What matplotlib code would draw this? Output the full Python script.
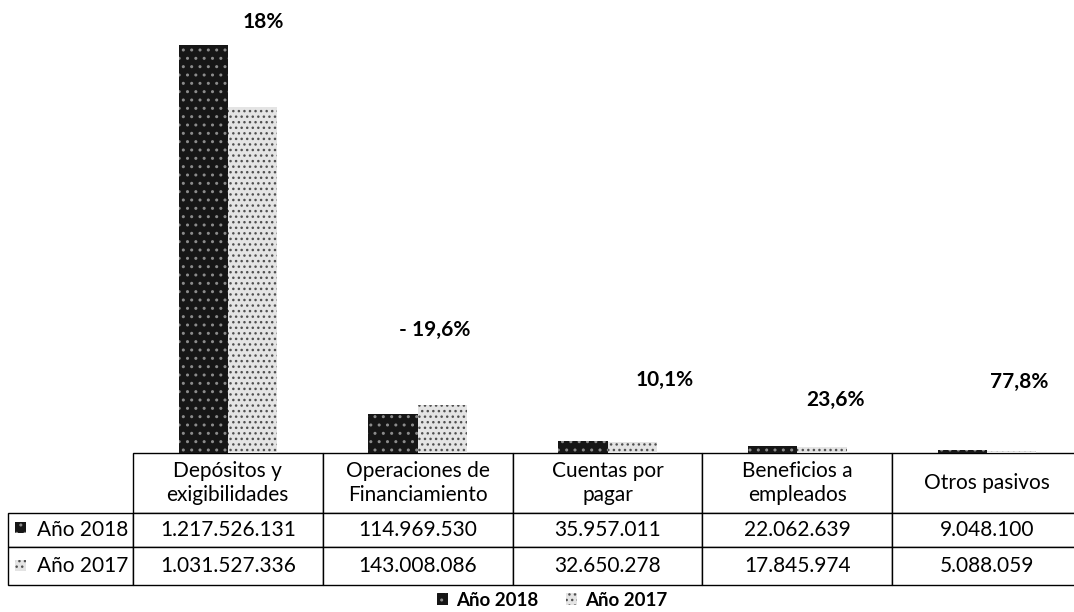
import matplotlib.pyplot as plt
from matplotlib.patches import Rectangle

plt.rcParams['font.family'] = ['Lato', 'DejaVu Sans']
plt.rcParams['hatch.linewidth'] = 1.0

categories = ['Depósitos y\nexigibilidades', 'Operaciones de\nFinanciamiento',
              'Cuentas por\npagar', 'Beneficios a\nempleados', 'Otros pasivos']
anio_2018 = [1217526131, 114969530, 35957011, 22062639, 9048100]
anio_2017 = [1031527336, 143008086, 32650278, 17845974, 5088059]
variacion = ['18%', '- 19,6%', '10,1%', '23,6%', '77,8%']

# where the % labels sit (data coords)
lbl_x = [0.185, 1.09, 2.30, 3.20, 4.17]
lbl_y = [1286e6, 367e6, 218e6, 158e6, 212e6]

W, H = 1074, 612
fig = plt.figure(figsize=(W / 100, H / 100), dpi=100)

# plot area in pixels: x 133..1082, y 20..453
ax_l, ax_r, ax_t, ax_b = 133, 1082, 20, 453
ax = fig.add_axes([ax_l / W, 1 - ax_b / H, (ax_r - ax_l) / W, (ax_b - ax_t) / H])

x = list(range(len(categories)))
w = 0.26
b18 = ax.bar([i - w / 2 for i in x], anio_2018, w, color='#161616', edgecolor='#8c8c8c',
             hatch='..', linewidth=0, label='Año 2018')
b17 = ax.bar([i + w / 2 for i in x], anio_2017, w, color='#e4e4e4', edgecolor='#505050',
             hatch='...', linewidth=0, label='Año 2017')

ax.set_xlim(-0.5, 4.5)
ax.set_ylim(0, 1292e6)
for s in ax.spines.values():
    s.set_visible(False)
ax.set_xticks([])
ax.set_yticks([])

for t, xx, yy in zip(variacion, lbl_x, lbl_y):
    ax.text(xx, yy, t, ha='center', va='center', fontsize=15, fontweight='bold')

# data table under the bars
fmt = lambda v: f'{v:,}'.replace(',', '.')
cell_text = [['', *categories],
             ['Año 2018', *[fmt(v) for v in anio_2018]],
             ['Año 2017', *[fmt(v) for v in anio_2017]]]
ax_w = ax_r - ax_l
ax_h = ax_b - ax_t
tb_left, tb_right, tb_bot = 8, 1082, 585
tbl = ax.table(cellText=cell_text, cellLoc='center',
               bbox=[(tb_left - ax_l) / ax_w, -(tb_bot - ax_b) / ax_h,
                     (tb_right - tb_left) / ax_w, (tb_bot - ax_b) / ax_h])
tbl.auto_set_font_size(False)
col_w = [125] + [190] * 5
row_h = [60, 34, 38]
for (r, c), cell in tbl.get_celld().items():
    cell.set_width(col_w[c])
    cell.set_height(row_h[r])
    cell.set_linewidth(1.0)
    cell.get_text().set_fontsize(15)
    if r == 0 and c == 0:
        cell.visible_edges = ''
    if c == 0 and r > 0:
        cell.get_text().set_ha('right')
        cell.PAD = 0.04
        cell._loc = 'right'

# little legend keys in the row labels
for yy, bar in [(528, b18), (566, b17)]:
    fig.patches.append(Rectangle((15 / W, 1 - (yy + 5) / H), 11 / W, 11 / H,
                                 transform=fig.transFigure, facecolor=bar[0].get_facecolor(),
                                 edgecolor=bar[0].get_edgecolor(), hatch=bar[0].get_hatch(),
                                 linewidth=0))

leg = fig.legend(handles=[b18, b17], loc='center', bbox_to_anchor=(552 / W, 1 - 600 / H),
                 ncol=2, frameon=False, prop={'weight': 'bold', 'size': 13.5},
                 handlelength=0.6, handleheight=0.6, handletextpad=0.4, columnspacing=1.5)

fig.savefig('out.png', dpi=100)
